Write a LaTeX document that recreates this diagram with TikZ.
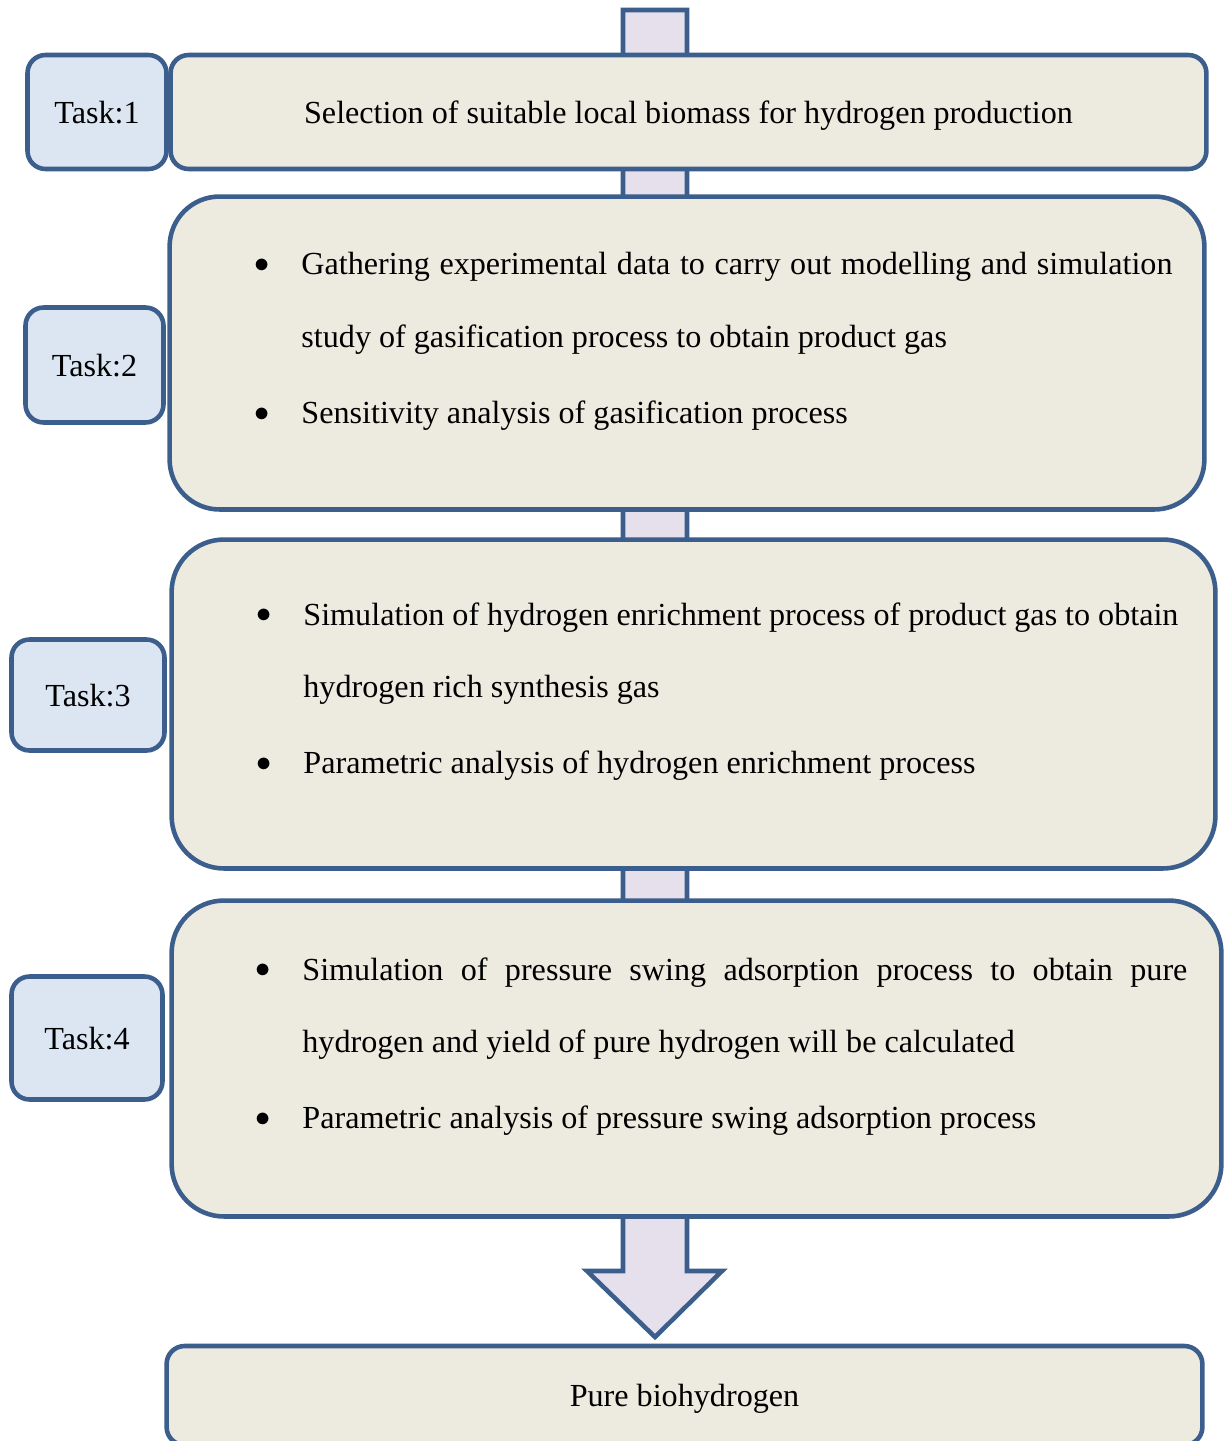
\documentclass[tikz,border=0pt]{standalone}
\usepackage{fontspec}
\setmainfont{Liberation Serif}
\usetikzlibrary{calc}
\definecolor{rimblue}{RGB}{59,94,140}
\definecolor{labelblue}{RGB}{220,230,242}
\definecolor{stepbeige}{RGB}{237,234,224}
\definecolor{arrowlilac}{RGB}{229,224,236}
\newcommand\stepdot{\raisebox{1.3pt}{\fontsize{16}{16}\selectfont$\bullet$}}
\newcommand\stepitem[1]{\noindent\hangindent=26.6pt\hangafter=1\makebox[26.6pt][l]{\stepdot}#1\par}

\begin{document}
\begin{tikzpicture}[x=0.02cm,y=-0.02cm,
    tasklabel/.style={draw=rimblue,fill=labelblue,line width=2.6pt,rounded corners=0.36cm,inner sep=0pt,text depth=0pt,font=\fontsize{18.3}{22}\selectfont},
    stepbox/.style={draw=rimblue,fill=stepbeige,line width=2.6pt,inner sep=0pt,text depth=0pt,font=\fontsize{18.3}{22}\selectfont},
    steptext/.style={anchor=north west,inner sep=0pt,align=justify,font={\fontsize{18.3}{41.4}\selectfont\setlength\parskip{1.7pt}}},
    flowarrow/.style={draw=rimblue,fill=arrowlilac,line width=2.6pt,line join=miter}]
    \useasboundingbox (0,0) rectangle (1226,1441);
    \clip (0,0) rectangle (1226,1441);
    \coordinate (src) at (655,10);
    \coordinate (tip) at (655,1337);
    \draw[flowarrow] (src) ++(-32,0) -- ++(64,0) -- (687,1271) -- (722,1271) -- (tip)
        -- (587,1271) -- (623,1271) -- cycle;
    \node[stepbox,rounded corners=0.36cm,minimum width=20.72cm,minimum height=2.28cm] (step1) at (688.5,112)
        {Selection of suitable local biomass for hydrogen production};
    \node[stepbox,rounded corners=1.0cm,minimum width=20.7cm,minimum height=6.26cm] (step2) at (687,353) {};
    \node[stepbox,rounded corners=1.05cm,minimum width=20.88cm,minimum height=6.58cm] (step3) at (693.5,704) {};
    \node[stepbox,rounded corners=1.05cm,minimum width=21cm,minimum height=6.32cm] (step4) at (696.5,1058.5) {};
    \node[stepbox,rounded corners=0.36cm,minimum width=20.72cm,minimum height=1.98cm] (result) at (684.5,1395.5)
        {Pure biohydrogen};
    \node[tasklabel,minimum width=2.78cm,minimum height=2.28cm] (task1) at (97,112) {Task:1};
    \node[tasklabel,minimum width=2.76cm,minimum height=2.3cm] (task2) at (94.5,365) {Task:2};
    \node[tasklabel,minimum width=3.06cm,minimum height=2.22cm] (task3) at (88,695) {Task:3};
    \node[tasklabel,minimum width=3.02cm,minimum height=2.46cm] (task4) at (87,1038) {Task:4};
    \node[steptext,text width=18.36cm] (list2) at ($(step2.north west)+(87,58)$)
        {\stepitem{Gathering experimental data to carry out modelling and simulation\linebreak study of gasification process to obtain product gas}
         \stepitem{Sensitivity analysis of gasification process}};
    \node[steptext,text width=18.44cm] (list3) at ($(step3.north west)+(87,65)$)
        {\stepitem{Simulation of hydrogen enrichment process of product gas to obtain\linebreak hydrogen rich synthesis gas}
         \stepitem{Parametric analysis of hydrogen enrichment process}};
    \node[steptext,text width=18.64cm] (list4) at ($(step4.north west)+(86,59)$)
        {\stepitem{Simulation of pressure swing adsorption process to obtain pure\linebreak hydrogen and yield of pure hydrogen will be calculated}
         \stepitem{Parametric analysis of pressure swing adsorption process}};
\end{tikzpicture}
\end{document}
